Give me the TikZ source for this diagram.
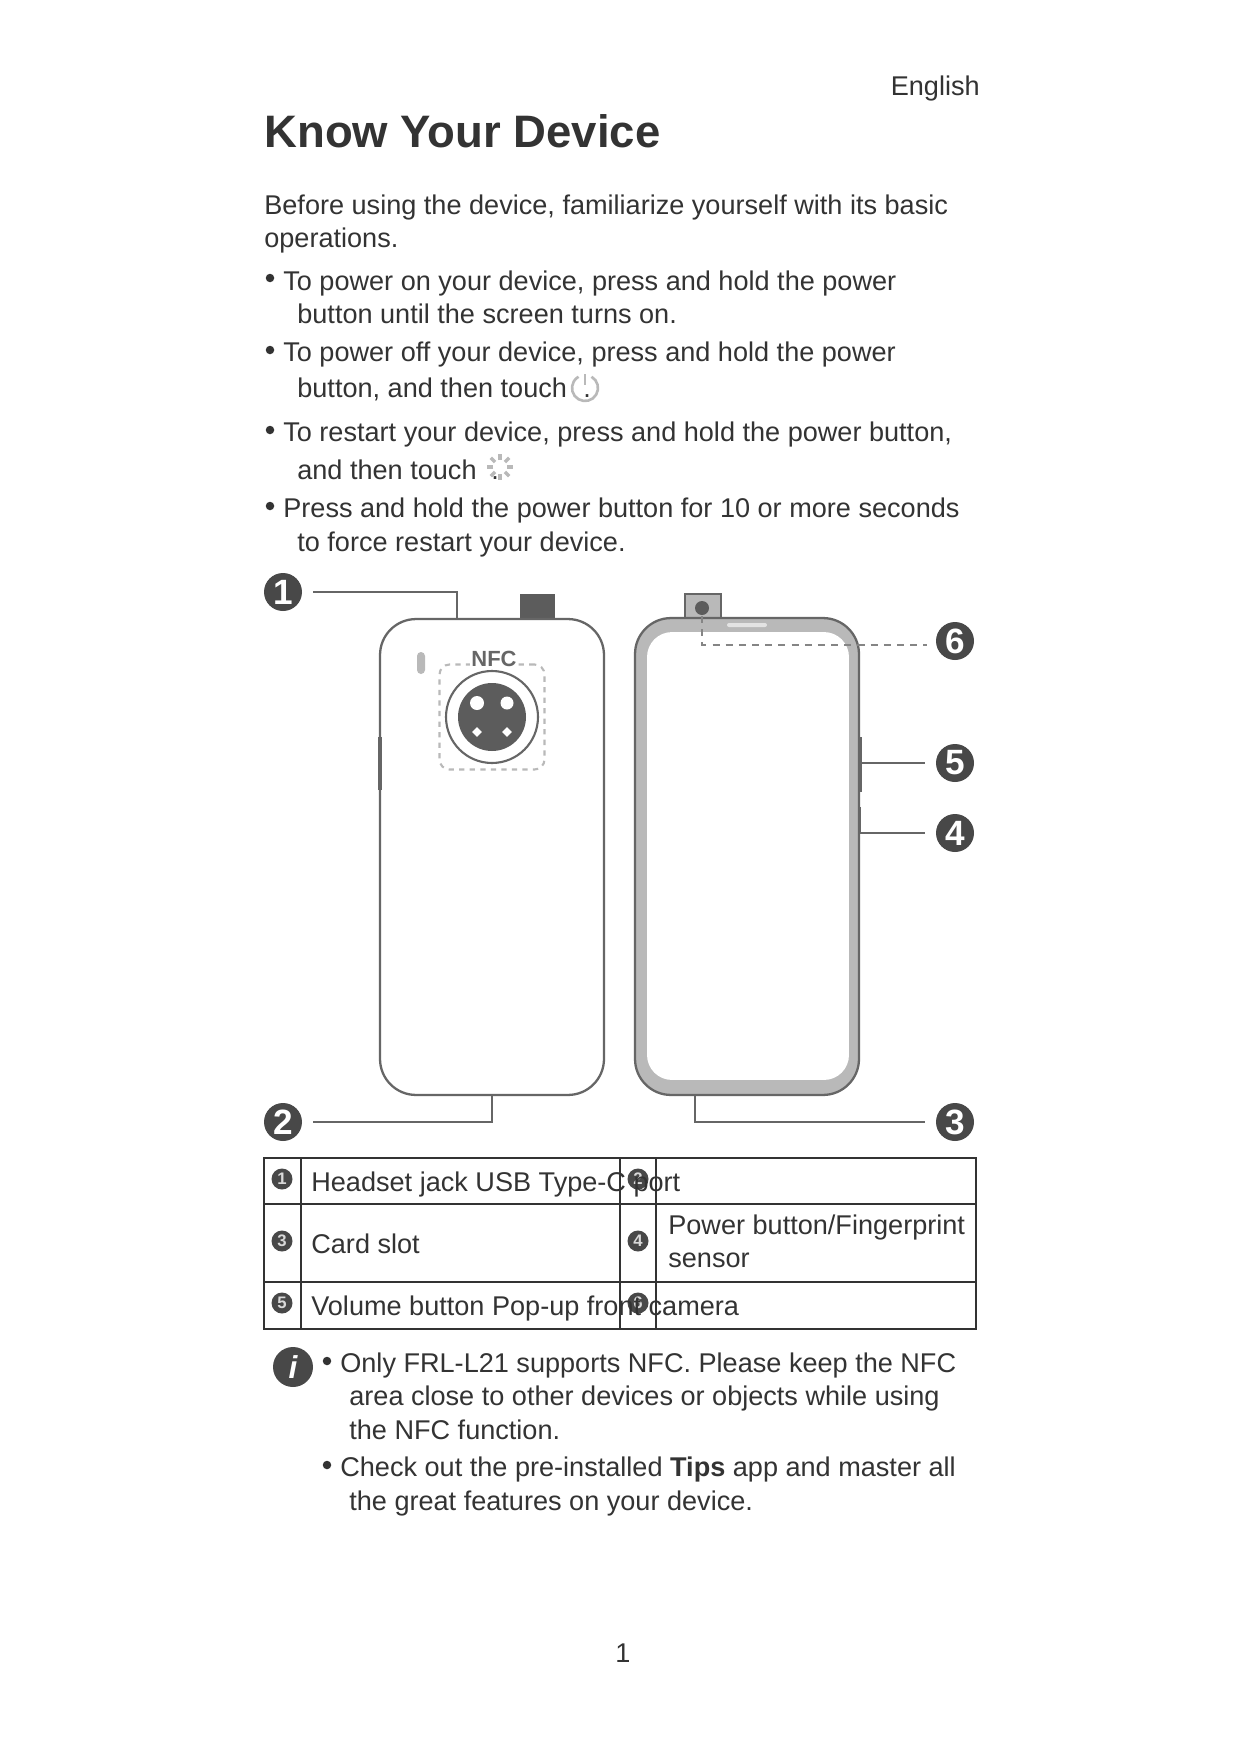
\documentclass[tikz,border=0pt]{standalone}
\usepackage{fontspec}
\setmainfont{Liberation Sans}
\usepackage{xcolor}
\usetikzlibrary{shapes.geometric, arrows.meta, positioning}
\definecolor{inkgray}{HTML}{333333}
\definecolor{wiregray}{HTML}{666666}
\definecolor{bezelgray}{HTML}{B9B9B9}
\definecolor{badgegray}{HTML}{484848}
\definecolor{lensgray}{HTML}{5C5C5C}
\begin{document}
\begin{tikzpicture}[
    x=0.02cm, y=-0.02cm,
    body/.style={anchor=base west, inner sep=0pt, text=inkgray, font=\fontsize{15.42}{18}\selectfont},
    title/.style={anchor=base west, inner sep=0pt, text=inkgray, font=\fontsize{25.9}{30}\selectfont\bfseries},
    bulletdot/.style={circle, fill=inkgray, inner sep=0pt, minimum size=0.17cm},
    badge/.style={circle, fill=badgegray, inner sep=0pt, minimum size=0.76cm, text=white, font=\fontsize{20}{22}\selectfont\bfseries},
    minibadge/.style={circle, fill=badgegray, inner sep=0pt, minimum size=0.42cm, text=white!85!black, font=\fontsize{9.5}{10}\selectfont\bfseries},
    leader/.style={draw=wiregray, line width=1pt, shorten <=0.22cm},
    phone/.style={rectangle, rounded corners=0.72cm, draw=wiregray, line width=1.3pt, inner sep=0pt},
    gridline/.style={draw=inkgray, line width=1.2pt}
]

\useasboundingbox (0,0) rectangle (1241,1754);
\fill[white] (0,0) rectangle (1241,1754);

% Heading
\node[body, anchor=base east] (lang) at (980,95) {English};
\node[title] (head) at (264,148) {Know Your Device};

% Intro
\node[body] (t1) at (264,214) {Before using the device, familiarize yourself with its basic};
\node[body] (t2) at (264,247) {operations.};

% Bullets
\node[bulletdot] (b1) at (270,278) {};
\node[body] (t3) at (283,290) {To power on your device, press and hold the power};
\node[body] (t4) at (297,323) {button until the screen turns on.};
\node[bulletdot] (b2) at (270,350) {};
\node[body] (t5) at (283,361) {To power off your device, press and hold the power};
\node[body] (t6) at (297,397) {button, and then touch};
\node[bulletdot] (b3) at (270,430) {};
\node[body] (t7) at (283,441) {To restart your device, press and hold the power button,};
\node[body] (t8) at (297,479) {and then touch};
\node[bulletdot] (b4) at (270,506) {};
\node[body] (t9) at (283,517) {Press and hold the power button for 10 or more seconds};
\node[body] (t10) at (297,551) {to force restart your device.};

% Power icon
\coordinate (pwr) at (585,388);
\draw[bezelgray, line width=1.5pt] (pwr) ++(-60:13) arc[start angle=-60, end angle=240, radius=13];
\draw[bezelgray, line width=1.6pt] (585,374) -- (585,385);
\node[body] (dot1) at (583,397) {.};

% Restart icon
\coordinate (spin) at (500,467);
\foreach \a in {0,45,...,315}
    \draw[bezelgray, line width=2pt] (spin) ++(\a:7) -- ++(\a:6);
\node[body] (dot2) at (491,479) {.};

% Back of the phone
\node[rectangle, fill=lensgray, minimum width=0.7cm, minimum height=0.5cm, inner sep=0pt] (popback) at (537.5,606.5) {};
\node[phone, fill=white, minimum width=4.48cm, minimum height=9.52cm] (back) at (492,857) {};
\draw[wiregray, line width=1.8pt] (380,737) -- (380,790);
\node[rectangle, rounded corners=0.08cm, fill=bezelgray, minimum width=0.16cm, minimum height=0.44cm, inner sep=0pt] (flash) at (421,663) {};

% Camera
\node[rectangle, rounded corners=0.2cm, draw=bezelgray, dashed, line width=1.2pt, minimum width=2.1cm, minimum height=2.1cm, inner sep=0pt] (nfcbox) at (492,717) {};
\node[inner sep=1pt, fill=white, text=wiregray, font=\fontsize{12.5}{15}\selectfont\bfseries] (nfc) at (494,659) {NFC};
\node[circle, draw=wiregray, fill=white, line width=1.2pt, minimum size=1.84cm, inner sep=0pt] (ring) at (492,717) {};
\node[circle, fill=lensgray, minimum size=1.36cm, inner sep=0pt] (disc) at (492,717) {};
\node[circle, fill=white, minimum size=0.28cm, inner sep=0pt] (lens1) at (477,703) {};
\node[circle, fill=white, minimum size=0.26cm, inner sep=0pt] (lens2) at (507,703) {};
\node[diamond, fill=white, minimum size=0.2cm, inner sep=0pt] (lens3) at (477,732) {};
\node[diamond, fill=white, minimum size=0.2cm, inner sep=0pt] (lens4) at (507,732) {};

% Front of the phone
\node[rectangle, draw=wiregray, fill=bezelgray, line width=1.3pt, minimum width=0.72cm, minimum height=0.48cm, inner sep=0pt] (popfront) at (703,606) {};
\node[circle, fill=lensgray, minimum size=0.28cm, inner sep=0pt] (frontcam) at (702,608) {};
\node[phone, fill=bezelgray, minimum width=4.48cm, minimum height=9.54cm] (front) at (747,856.5) {};
\node[rectangle, rounded corners=0.5cm, fill=white, minimum width=4.04cm, minimum height=8.96cm, inner sep=0pt] (screen) at (748,856) {};
\node[rectangle, rounded corners=0.04cm, fill=white!60!bezelgray, minimum width=0.8cm, minimum height=0.08cm, inner sep=0pt] (speaker) at (747,625) {};
\draw[wiregray, line width=1.8pt] (860,737) -- (860,792);
\draw[wiregray, line width=1.4pt] (860,807) -- (860,833);

% Callouts
\node[badge] (n1) at (283,592) {1};
\node[badge] (n2) at (283,1122) {2};
\node[badge] (n3) at (955,1122) {3};
\node[badge] (n4) at (955,833) {4};
\node[badge] (n5) at (955,763) {5};
\node[badge] (n6) at (955,641) {6};

\coordinate (jack) at (457,619);
\coordinate (usb) at (492,1095);
\coordinate (slot) at (695,1095);
\coordinate (btn4) at (860,833);
\coordinate (btn5) at (860,763);
\coordinate (popcam) at (702,616);
\coordinate (dashend) at (927,645);

\draw[leader] (n1.east) -| (jack);
\draw[leader] (n2.east) -| (usb);
\draw[leader] (n3.west) -| (slot);
\draw[leader] (n4.west) -- (btn4);
\draw[leader] (n5.west) -- (btn5);
\draw[draw=wiregray!80, line width=1.4pt, dash pattern=on 4pt off 3.5pt] (popcam) |- (dashend);

% Table
\draw[gridline] (264,1158) rectangle (976,1329);
\draw[gridline] (264,1204) -- (976,1204);
\draw[gridline] (264,1282) -- (976,1282);
\draw[gridline] (301,1158) -- (301,1329);
\draw[gridline] (620,1158) -- (620,1329);
\draw[gridline] (656,1158) -- (656,1329);

\node[minibadge] (r1) at (282,1179) {1};
\node[minibadge] (r2) at (638,1179) {2};
\node[minibadge] (r3) at (282,1241) {3};
\node[minibadge] (r4) at (638,1241) {4};
\node[minibadge] (r5) at (282,1303) {5};
\node[minibadge] (r6) at (638,1303) {6};

\node[body] (c1) at (311,1191) {Headset jack USB Type-C port};
\node[body] (c3) at (311,1253) {Card slot};
\node[body] (c4a) at (668,1234) {Power button/Fingerprint};
\node[body] (c4b) at (668,1267) {sensor};
\node[body] (c5) at (311,1315) {Volume button Pop-up front camera};

% Notes
\node[circle, fill=badgegray, inner sep=0pt, minimum size=0.8cm, text=white, font=\fontsize{18}{20}\selectfont\bfseries\itshape] (info) at (293,1367) {i};
\node[bulletdot] (b5) at (327,1361) {};
\node[body] (m1) at (340,1372) {Only FRL-L21 supports NFC. Please keep the NFC};
\node[body] (m2) at (349,1405) {area close to other devices or objects while using};
\node[body] (m3) at (349,1439) {the NFC function.};
\node[bulletdot] (b6) at (327,1465) {};
\node[body] (m4) at (340,1476) {Check out the pre-installed \textbf{Tips} app and master all};
\node[body] (m5) at (349,1510) {the great features on your device.};

% Page number
\node[body, anchor=base] (page) at (623,1662) {1};

\end{tikzpicture}
\end{document}
